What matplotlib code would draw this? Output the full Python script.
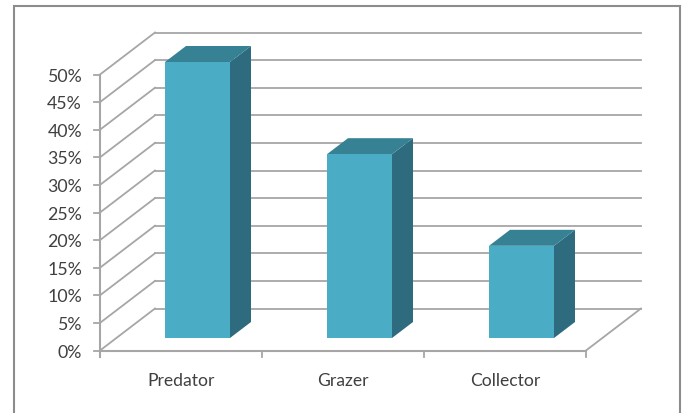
import matplotlib
matplotlib.use('Agg')
import matplotlib.pyplot as plt
from matplotlib.patches import Polygon, Rectangle

plt.rcParams['font.family'] = ['Lato', 'DejaVu Sans']

categories = ['Predator', 'Grazer', 'Collector']
shares = [50, 33.3, 16.7]
ticks = [0, 5, 10, 15, 20, 25, 30, 35, 40, 45, 50]

# Цвета
grid_color = '#a6a6a6'
frame_color = '#8c8c8c'
face_color = '#4bacc6'
top_color = '#378195'
side_color = '#2f6b7e'
text_color = '#404040'

# Геометрия псевдо-3D в пикселях
left, right = 100, 586
floor_y, top_y = 350.5, 74.5
wall_dx, wall_dy = 55, -42
bar_w = 65
bar_dx, bar_dy = 21, -16
bar_shift_x, bar_shift_y = 16.5, -12.5
step = (right - left) / len(categories)


def val_y(v):
    return floor_y - (floor_y - top_y) * v / 50


fig = plt.figure(figsize=(6.86, 4.13), dpi=100)
ax = fig.add_axes([0, 0, 1, 1])
ax.set_xlim(0, 686)
ax.set_ylim(413, 0)
ax.axis('off')

# Рамка диаграммы
ax.add_patch(Rectangle((13.5, 5.5), 666, 420, fc='white', ec=frame_color, lw=1.5))

# Задняя стенка и боковые линии сетки
for t in ticks:
    y = val_y(t)
    ax.plot([left, left + wall_dx], [y, y + wall_dy], color=grid_color, lw=1.3, zorder=1)
    ax.plot([left + wall_dx, right + wall_dx], [y + wall_dy, y + wall_dy], color=grid_color, lw=1.3, zorder=1)
    ax.plot([left - 6, left], [y, y], color=grid_color, lw=1.3, zorder=1)
    ax.text(left - 18, y + 2, f'{t}%', ha='right', va='center', fontsize=12.8, color=text_color)

# Пол и оси
ax.plot([left, right], [floor_y, floor_y], color=grid_color, lw=1.5, zorder=1)
ax.plot([right, right + wall_dx], [floor_y, floor_y + wall_dy], color=grid_color, lw=1.3, zorder=1)
ax.plot([left, left], [top_y, floor_y + 6], color=grid_color, lw=1.5, zorder=1)
for i in range(len(categories) + 1):
    x = left + i * step
    ax.plot([x, x], [floor_y, floor_y + 6], color=grid_color, lw=1.3, zorder=1)

# Столбцы
for i, (name, v) in enumerate(zip(categories, shares)):
    cx = left + (i + 0.5) * step
    x0 = cx - bar_w / 2 + bar_shift_x
    x1 = x0 + bar_w
    y0 = floor_y + bar_shift_y
    y1 = val_y(v) + bar_shift_y
    ax.add_patch(Polygon([(x1, y0), (x1 + bar_dx, y0 + bar_dy), (x1 + bar_dx, y1 + bar_dy), (x1, y1)],
                         fc=side_color, ec='none', zorder=3))
    ax.add_patch(Polygon([(x0, y1), (x1, y1), (x1 + bar_dx, y1 + bar_dy), (x0 + bar_dx, y1 + bar_dy)],
                         fc=top_color, ec='none', zorder=3))
    ax.add_patch(Rectangle((x0, y1), bar_w, y0 - y1, fc=face_color, ec='none', zorder=4))
    ax.text(cx, 381.5, name, ha='center', va='center', fontsize=12.6, color=text_color)

fig.savefig('out.png', dpi=100)
